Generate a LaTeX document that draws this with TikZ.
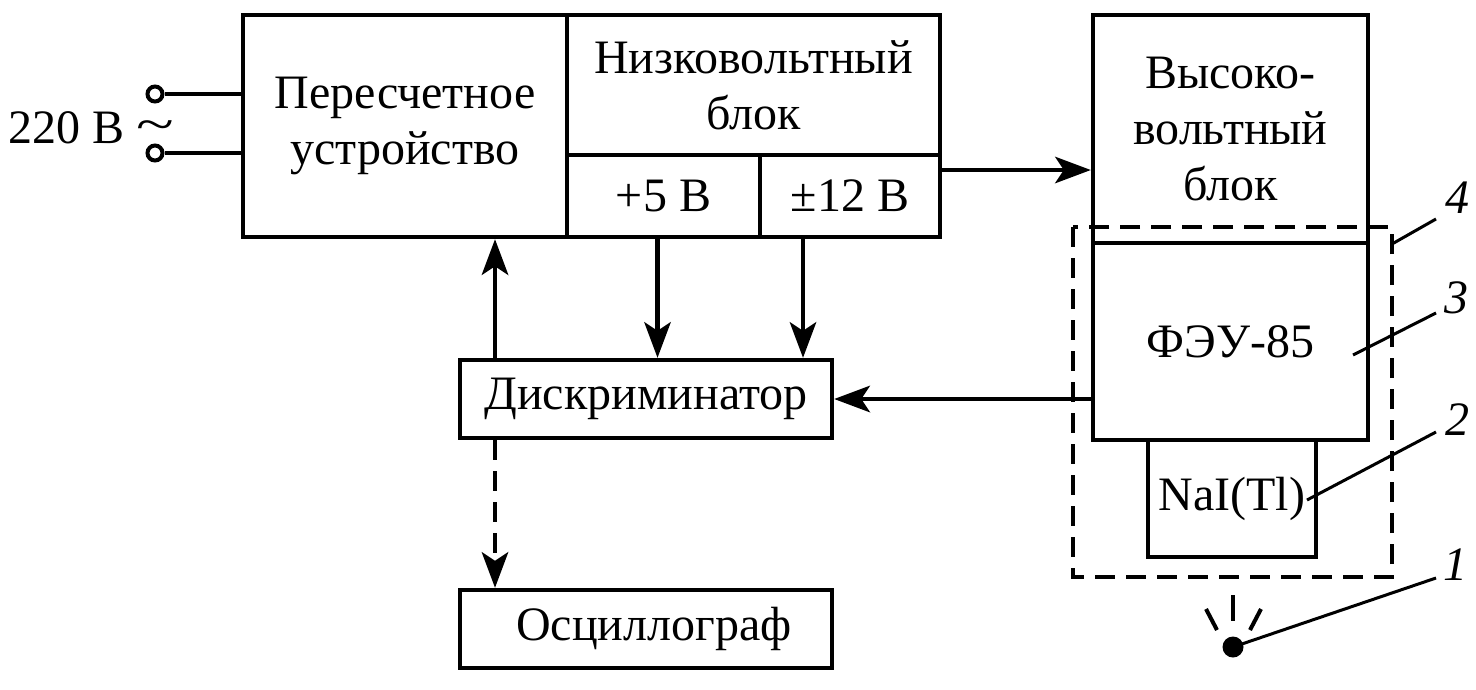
\documentclass[tikz,border=0pt]{standalone}
\usepackage{fontspec}
\setmainfont{Liberation Serif}
\usetikzlibrary{arrows.meta}

\begin{document}
\begin{tikzpicture}[x=1pt,y=-1pt,line width=4.5pt,
  blk/.style={draw,rectangle,inner sep=0pt,align=center,font=\fontsize{48}{56}\selectfont},
  arr/.style={-{Stealth[length=36pt,width=27pt,inset=9pt,line width=0pt]}},
  dsh/.style={dash pattern=on 20pt off 11pt},
  lead/.style={line width=3pt},
  num/.style={inner sep=0pt,font=\fontsize{48}{56}\selectfont\itshape}]
  \useasboundingbox (0,0) rectangle (1476,689);
  % blocks
  \node[blk,minimum width=324pt,minimum height=222pt] (cnt) at (405,126) {Пересчетное\\устройство};
  \node[blk,minimum width=373pt,minimum height=140pt] (lv) at (753.5,85) {Низковольтный\\блок};
  \node[blk,minimum width=193pt,minimum height=82pt] (p5) at (663.5,196) {+5 В};
  \node[blk,minimum width=180pt,minimum height=82pt] (p12) at (850,196) {±12 В};
  \node[blk,minimum width=275pt,minimum height=228pt] (hv) at (1230.5,129) {Высоко-\\вольтный\\блок};
  \node[blk,minimum width=275pt,minimum height=197pt] (pmt) at (1230.5,341.5) {ФЭУ-85};
  \node[blk,minimum width=168pt,minimum height=117pt] (nai) at (1232,498.5) {NaI(Tl)};
  \node[blk,minimum width=372pt,minimum height=78pt] (disc) at (646,399) {Дискриминатор};
  \node[blk,minimum width=372pt,minimum height=78pt] (osc) at (646,629) {\hspace{16pt}Осциллограф};
  \draw[dsh] (1073,227) rectangle (1392,577);
  % input
  \node[anchor=east,inner sep=0pt,font=\fontsize{48}{56}\selectfont] (src) at (176,128)
    {220 В \raisebox{3pt}{\scalebox{1.45}[1]{\textasciitilde}}};
  \node[circle,draw,line width=4pt,minimum size=15pt,inner sep=0pt] (t1) at (155,94) {};
  \node[circle,draw,line width=4pt,minimum size=15pt,inner sep=0pt] (t2) at (155,153) {};
  \draw (t1) -- (t1 -| cnt.west);
  \draw (t2) -- (t2 -| cnt.west);
  % connections
  \coordinate (up) at (495,360);
  \coordinate (lvout) at (940,170);
  \draw[arr] (up) -- (up |- cnt.south);
  \draw[arr] ([xshift=-6pt]p5.south) -- ([xshift=-6pt]p5.south |- disc.north);
  \draw[arr] ([xshift=-47pt]p12.south) -- ([xshift=-47pt]p12.south |- disc.north);
  \draw[arr] (lvout) -- (lvout -| hv.west);
  \draw[arr] (pmt.west |- disc.east) -- (disc.east);
  \draw[arr,dsh] (up |- disc.south) -- (up |- osc.north);
  % source
  \node[circle,fill,inner sep=0pt,minimum size=21pt] (gam) at (1233,647) {};
  \draw[line width=4pt] (1233,595) -- (1233,621);
  \draw[line width=4pt] (1206,609) -- (1217,630);
  \draw[line width=4pt] (1261,609) -- (1250,630);
  % labels
  \node[num] (n4) at (1457,198) {4};
  \node[num] (n3) at (1456,298) {3};
  \node[num] (n2) at (1457,420) {2};
  \node[num] (n1) at (1455,565) {1};
  \coordinate (l4) at (1392,244);
  \coordinate (l3) at (1353,355);
  \coordinate (l2) at (1307,500);
  \draw[lead] (l4) -- (1436,219);
  \draw[lead] (l3) -- (1436,313);
  \draw[lead] (l2) -- (1436,432);
  \draw[lead] (gam.center) -- (1436,578);
\end{tikzpicture}
\end{document}
